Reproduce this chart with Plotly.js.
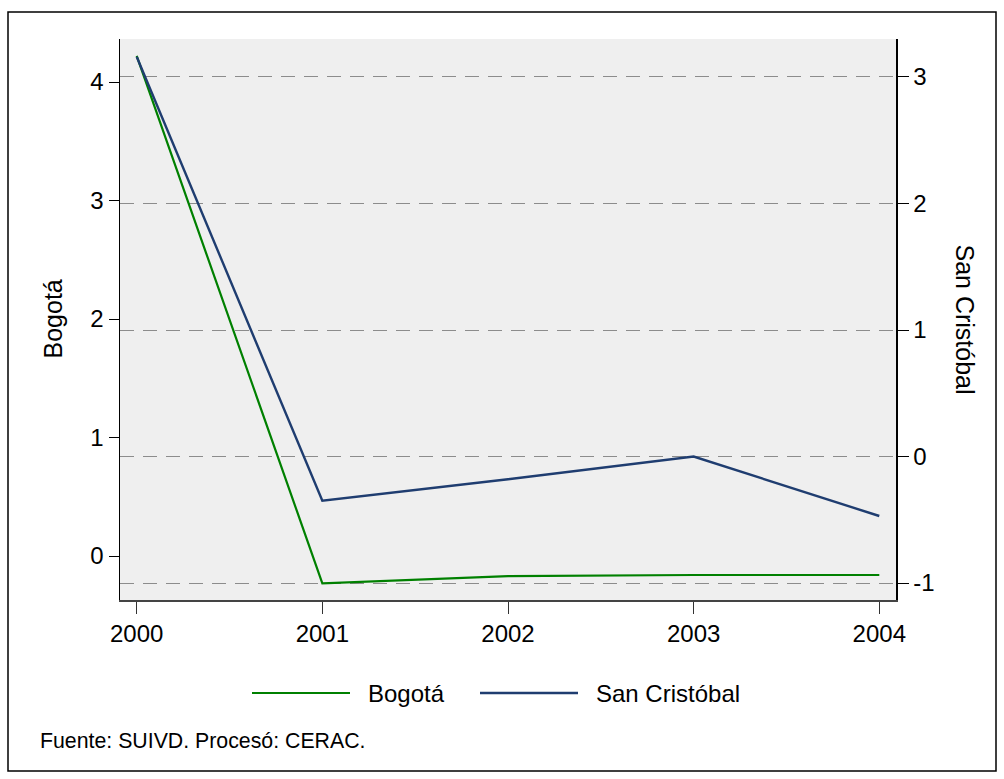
<!DOCTYPE html>
<html>
<head>
<meta charset="utf-8">
<script src="https://cdn.plot.ly/plotly-3.0.1.min.js"></script>
<style>html,body{margin:0;padding:0;background:#fff;}#chart{width:1004px;height:779px;}</style>
</head>
<body>
<div id="chart"></div>
<script>
// ---- data ----
const years = [2000, 2001, 2002, 2003, 2004];
const bogota = [4.22, -0.23, -0.17, -0.16, -0.16];
const sanCristobal = [3.16, -0.35, -0.18, 0.0, -0.47];
const leftTicks = [0, 1, 2, 3, 4];
const leftTickLabels = ["0", "1", "2", "3", "4"];
const rightTicks = [-1, 0, 1, 2, 3];
const rightTickLabels = ["-1", "0", "1", "2", "3"];
const seriesNames = ["Bogotá", "San Cristóbal"];
const footnote = "Fuente: SUIVD. Procesó: CERAC.";

const GREEN = "#008000";
const NAVY = "#1f3d70";
const FONT = "Liberation Sans, Arial, sans-serif";

// plot area pixel geometry
const W = 1004, H = 779;
const L = 120, R = 896, T = 39, B = 600;
const px = x => (x - L) / (R - L);
const py = y => (B - y) / (B - T);

const traces = [
  {x: years, y: bogota, name: seriesNames[0], type: "scatter", mode: "lines",
   line: {color: GREEN, width: 2.2}, yaxis: "y", showlegend: false},
  {x: years, y: sanCristobal, name: seriesNames[1], type: "scatter", mode: "lines",
   line: {color: NAVY, width: 2.4}, yaxis: "y2", showlegend: false}
];

const legendY = py(693);
const layout = {
  width: W, height: H,
  margin: {l: L, r: W - R, t: T, b: H - B, pad: 0},
  paper_bgcolor: "#ffffff",
  plot_bgcolor: "#efefef",
  font: {family: FONT, size: 24, color: "#000"},
  showlegend: false,
  xaxis: {
    range: [1999.91, 2004.09], tickvals: years, ticktext: years.map(String),
    ticks: "outside", ticklen: 12, tickwidth: 1, tickcolor: "#333",
    showline: true, linecolor: "#444", linewidth: 1.5,
    showgrid: false, zeroline: false, fixedrange: true,
    tickfont: {size: 24}
  },
  yaxis: {
    range: [-0.371, 4.363], tickvals: leftTicks, ticktext: leftTickLabels,
    ticks: "outside", ticklen: 10, tickwidth: 1, tickcolor: "#000",
    showline: true, linecolor: "#000", linewidth: 1.5,
    showgrid: false, zeroline: false, fixedrange: true,
    tickfont: {size: 24}
  },
  yaxis2: {
    overlaying: "y", side: "right",
    range: [-1.134, 3.300], tickvals: rightTicks, ticktext: rightTickLabels,
    ticks: "outside", ticklen: 11, tickwidth: 1, tickcolor: "#000",
    showline: true, linecolor: "#000", linewidth: 1.5,
    showgrid: true, gridcolor: "#8c8c8c", gridwidth: 1, griddash: "14px,9px",
    zeroline: false, fixedrange: true,
    tickfont: {size: 24}
  },
  shapes: [
    // outer frame
    {type: "rect", xref: "paper", yref: "paper",
     x0: px(8), x1: px(996), y0: py(771), y1: py(12),
     line: {color: "#000", width: 1.5}, fillcolor: "rgba(0,0,0,0)", layer: "below"},
    // legend keys
    {type: "line", xref: "paper", yref: "paper", x0: px(252), x1: px(350), y0: legendY, y1: legendY,
     line: {color: GREEN, width: 2.2}},
    {type: "line", xref: "paper", yref: "paper", x0: px(480), x1: px(578), y0: legendY, y1: legendY,
     line: {color: NAVY, width: 2.4}}
  ],
  annotations: [
    {text: seriesNames[0], xref: "paper", yref: "paper", x: px(52), y: 0.5,
     textangle: -90, showarrow: false, xanchor: "center", yanchor: "middle",
     font: {size: 25}},
    {text: seriesNames[1], xref: "paper", yref: "paper", x: px(965), y: 0.5,
     textangle: 90, showarrow: false, xanchor: "center", yanchor: "middle",
     font: {size: 25}},
    {text: seriesNames[0], xref: "paper", yref: "paper", x: px(366), y: legendY,
     showarrow: false, xanchor: "left", yanchor: "middle", font: {size: 24}},
    {text: seriesNames[1], xref: "paper", yref: "paper", x: px(594), y: legendY,
     showarrow: false, xanchor: "left", yanchor: "middle", font: {size: 24}},
    {text: footnote, xref: "paper", yref: "paper", x: px(38), y: py(741),
     showarrow: false, xanchor: "left", yanchor: "middle", font: {size: 21.3}}
  ]
};

Plotly.newPlot("chart", traces, layout, {displayModeBar: false, staticPlot: true});
</script>
</body>
</html>
